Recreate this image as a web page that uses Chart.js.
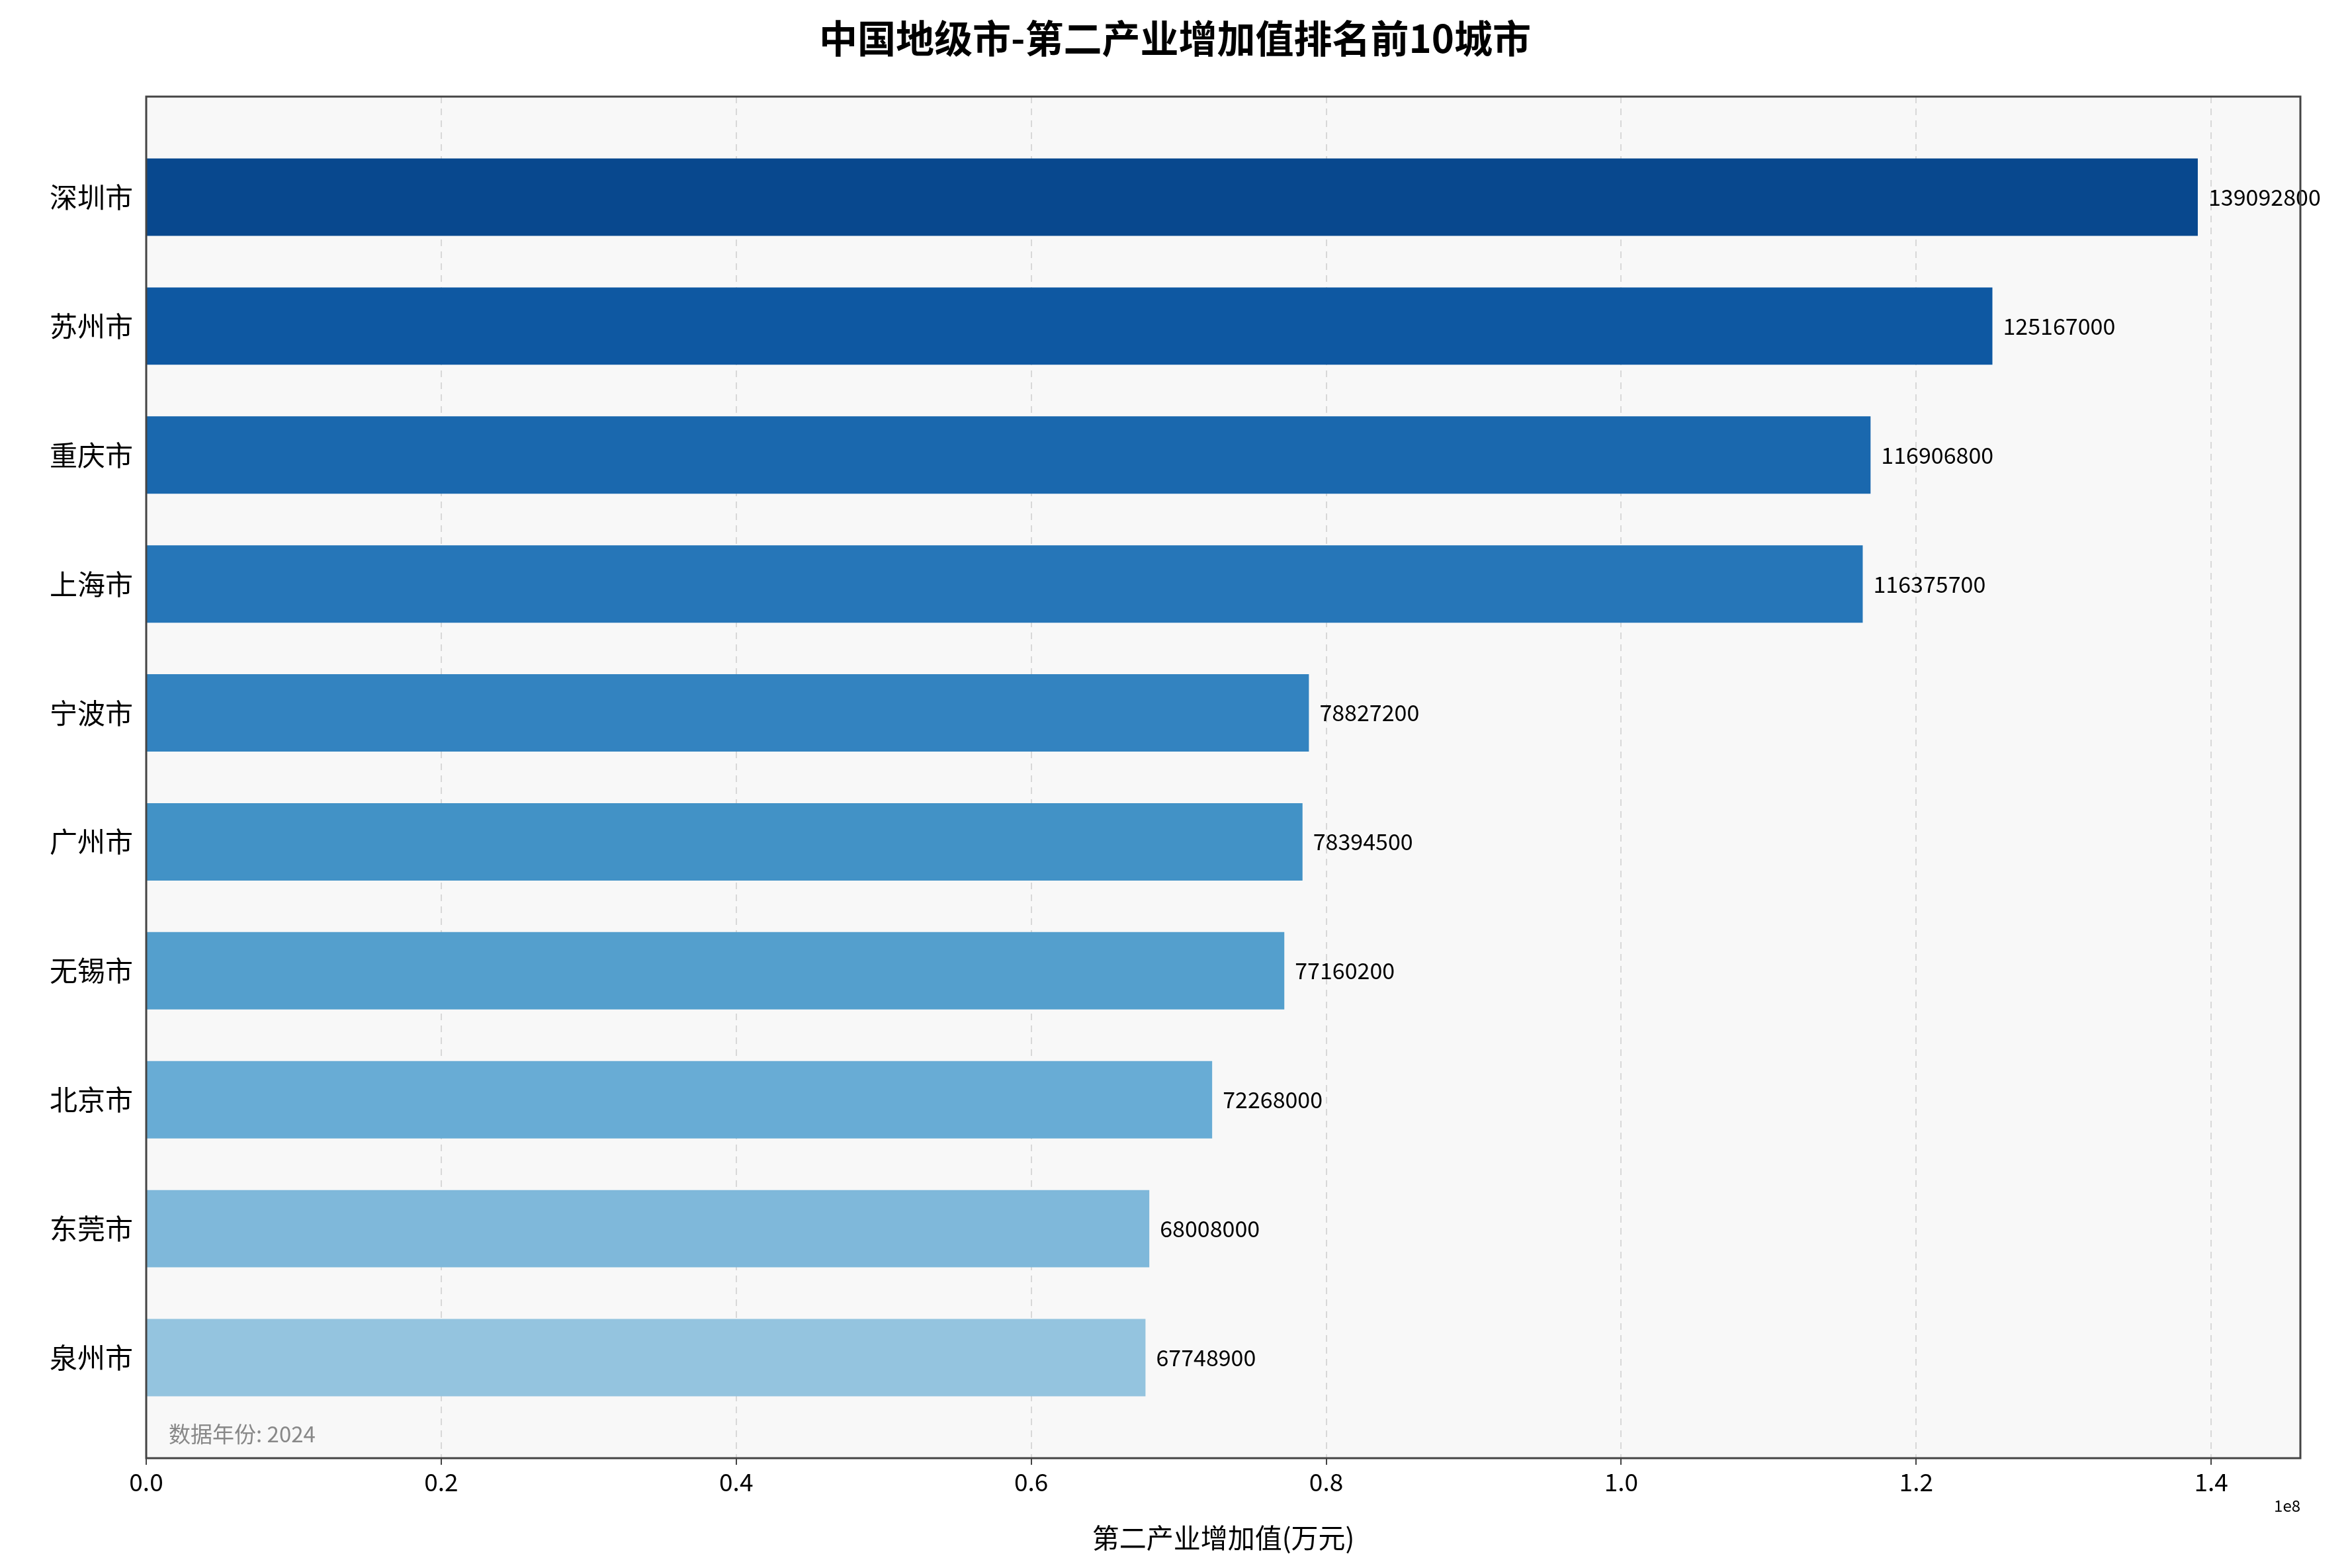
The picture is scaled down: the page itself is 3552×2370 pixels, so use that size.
<!DOCTYPE html>
<html><head><meta charset="utf-8">
<script src="https://cdn.jsdelivr.net/npm/chart.js@4"></script>
<style>html,body{margin:0;padding:0;background:#fff}#c{display:block}</style>
</head><body>
<div style="width:3552px;height:2370px"><canvas id="c" width="3552" height="2370"></canvas></div>
<script>
const cities = ["深圳市","苏州市","重庆市","上海市","宁波市","广州市","无锡市","北京市","东莞市","泉州市"];
const values = [139092800,125167000,116906800,116375700,78827200,78394500,77160200,72268000,68008000,67748900];
const barColors = ["#08488e","#0e58a2","#1a68ae","#2676b8","#3383c0","#4292c6","#549fcd","#68acd5","#7fb8da","#94c4df"];
const chartTitle = "中国地级市-第二产业增加值排名前10城市";
const xTitle = "第二产业增加值(万元)";
const note = "数据年份: 2024";
const FONT = "'Noto Sans CJK SC','DejaVu Sans',sans-serif";

const deco = {
  id:'deco',
  beforeDraw(c){
    const {ctx, chartArea:a} = c;
    ctx.save(); ctx.fillStyle='#f8f8f8'; ctx.fillRect(a.left,a.top,a.right-a.left,a.bottom-a.top); ctx.restore();
  },
  afterDatasetsDraw(c){
    const {ctx, chartArea:a} = c;
    const meta = c.getDatasetMeta(0);
    ctx.save();
    ctx.font = "34px "+FONT; ctx.fillStyle='#000'; ctx.textBaseline='middle'; ctx.textAlign='left';
    meta.data.forEach((el,i)=>{ ctx.fillText(String(values[i]), el.x+16, el.y); });
    ctx.strokeStyle='#444'; ctx.lineWidth=3;
    ctx.strokeRect(a.left,a.top,a.right-a.left,a.bottom-a.top);
    ctx.font = "33px "+FONT; ctx.fillStyle='#888';
    ctx.textBaseline='alphabetic';
    ctx.fillText(note, a.left+34, a.bottom-24);
    ctx.fillStyle='#000'; ctx.textAlign='center';
    ctx.font = "bold 58px "+FONT;
    ctx.fillText(chartTitle, 1776, 80);
    ctx.font = "41px "+FONT;
    ctx.fillText(xTitle, (a.left+a.right)/2, 2340);
    ctx.font = "24px "+FONT; ctx.textAlign='right';
    ctx.fillText("1e8", a.right, 2285);
    ctx.restore();
  }
};

new Chart(document.getElementById('c'), {
  type:'bar',
  data:{ datasets:[{ data: values.map((v,i)=>({x:v,y:i})), backgroundColor: barColors, barPercentage:0.6, categoryPercentage:1 }]},
  options:{
    indexAxis:'y', responsive:false, animation:false, devicePixelRatio:1,
    layout:{padding:{top:146,right:75,left:0,bottom:0}},
    plugins:{legend:{display:false}, tooltip:{enabled:false}},
    scales:{
      y:{ type:'linear', reverse:true, min:-0.78, max:9.78, offset:false,
          afterFit(s){ s.width=221; },
          afterBuildTicks(s){ s.ticks = cities.map((_,i)=>({value:i})); },
          ticks:{ autoSkip:false, callback:(v)=>cities[v]||'', color:'#000', font:{family:FONT,size:42}, padding:10 },
          grid:{ display:false, drawTicks:true, tickLength:10 }, border:{display:false} },
      x:{ type:'linear', min:0, max:146047440, offset:false,
          afterFit(s){ s.height=166; },
          afterBuildTicks(s){ s.ticks=[0,1,2,3,4,5,6,7].map(k=>({value:k*2e7})); },
          ticks:{ callback:(v)=>(v/1e8).toFixed(1), color:'#000', font:{family:FONT,size:37}, padding:4, maxRotation:0 },
          grid:{ color:'rgba(0,0,0,0.13)', lineWidth:2, tickLength:10, tickColor:'#444', drawOnChartArea:true },
          border:{display:false, dash:[10,8]} }
    }
  },
  plugins:[deco]
});
</script>
</body></html>
